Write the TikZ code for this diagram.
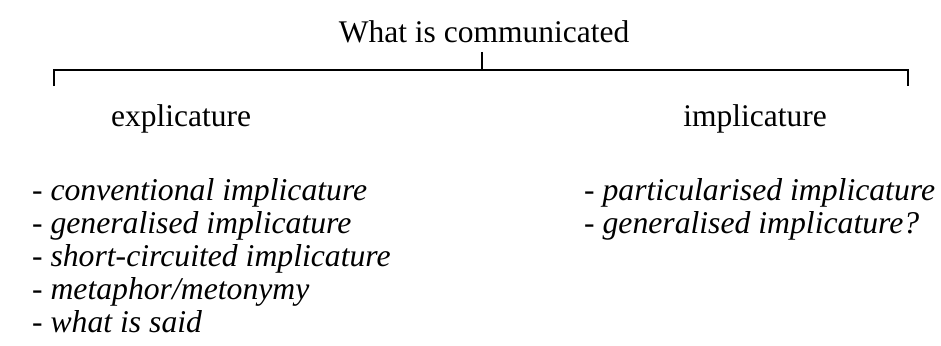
\documentclass[tikz,border=0pt]{standalone}
\usepackage{fontspec}
\setmainfont{Liberation Serif}
\begin{document}
\begin{tikzpicture}[x=1pt,y=-1pt,
  lbl/.style={inner sep=0pt,font=\fontsize{31.5}{36}\selectfont},
  item/.style={inner sep=0pt,anchor=base west,font=\fontsize{31.5}{36}\selectfont},
  brace/.style={line width=1.3pt}]
\newcommand{\itx}[1]{{\fontsize{31.7}{36}\selectfont\itshape #1}}
\useasboundingbox (0,0) rectangle (941,345);
\node[lbl,anchor=base] (top) at (484,43) {What is communicated};
\node[lbl,anchor=base] (expl) at (181,126) {explicature};
\node[lbl,anchor=base] (impl) at (755,126) {implicature};
\coordinate (cTop) at (482,52);
\coordinate (cMid) at (482,70);
\coordinate (cL) at (54,70);
\coordinate (cLend) at (54,86);
\coordinate (cR) at (908,70);
\coordinate (cRend) at (908,86);
\draw[brace] (cLend) -- (cL) -- (cR) -- (cRend);
\draw[brace] (cTop) -- (cMid);
\node[item] (l1) at (32,200) {- \itx{conventional implicature}};
\node[item] (l2) at (32,233) {- \itx{generalised implicature}};
\node[item] (l3) at (32,266) {- \itx{short-circuited implicature}};
\node[item] (l4) at (32,299) {- \itx{metaphor/metonymy}};
\node[item] (l5) at (32,332) {- \itx{what is said}};
\node[item] (r1) at (584,200) {- \itx{particularised implicature}};
\node[item] (r2) at (584,233) {- \itx{generalised implicature?}};
\end{tikzpicture}
\end{document}
